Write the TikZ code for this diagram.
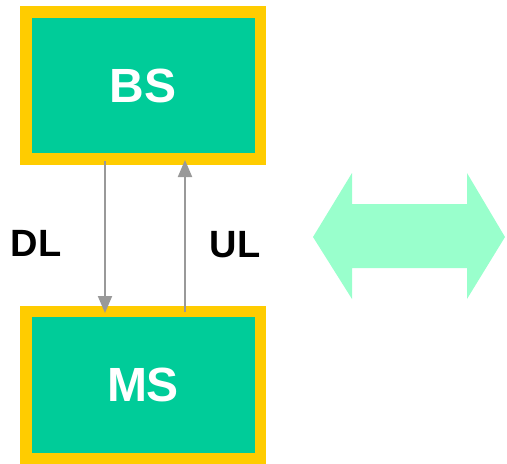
\documentclass[tikz,border=0pt]{standalone}
\usepackage{fontspec}
\setmainfont{Liberation Sans}
\usetikzlibrary{arrows.meta}
\definecolor{boxgreen}{HTML}{00CC99}
\definecolor{boxyellow}{HTML}{FFCC00}
\definecolor{arrgray}{HTML}{999999}
\definecolor{lightgreen}{HTML}{99FFCC}
\tikzset{
  station/.style={draw=boxyellow, fill=boxgreen, line width=11.5pt,
    minimum width=234.5pt, minimum height=147pt, inner sep=0pt,
    text=white, font=\fontsize{48}{48}\selectfont\bfseries},
  link/.style={draw=arrgray, line width=2pt, -{Triangle[width=14pt,length=17pt]}},
  lbl/.style={font=\fontsize{38}{38}\selectfont\bfseries, text=black, inner sep=0pt}
}
\begin{document}
\begin{tikzpicture}[x=1pt,y=-1pt]
\useasboundingbox (0,0) rectangle (507,464);
\node[station] (BS) at (143,85.5) {BS};
\node[station] (MS) at (143,385) {MS};
\coordinate (dltop) at (105,161);
\coordinate (dlbot) at (105,313);
\coordinate (ulbot) at (185,312);
\coordinate (ultop) at (185,160);
\draw[link] (dltop) -- (dlbot);
\draw[link] (ulbot) -- (ultop);
\node[lbl] (DL) at (36,243) {DL};
\node[lbl] (UL) at (235,245) {UL};
\fill[lightgreen] (313,237) -- (352,173) -- (352,204) -- (467,204) -- (467,173)
  -- (505,237) -- (467,299) -- (467,268) -- (352,268) -- (352,299) -- cycle;
\end{tikzpicture}
\end{document}
